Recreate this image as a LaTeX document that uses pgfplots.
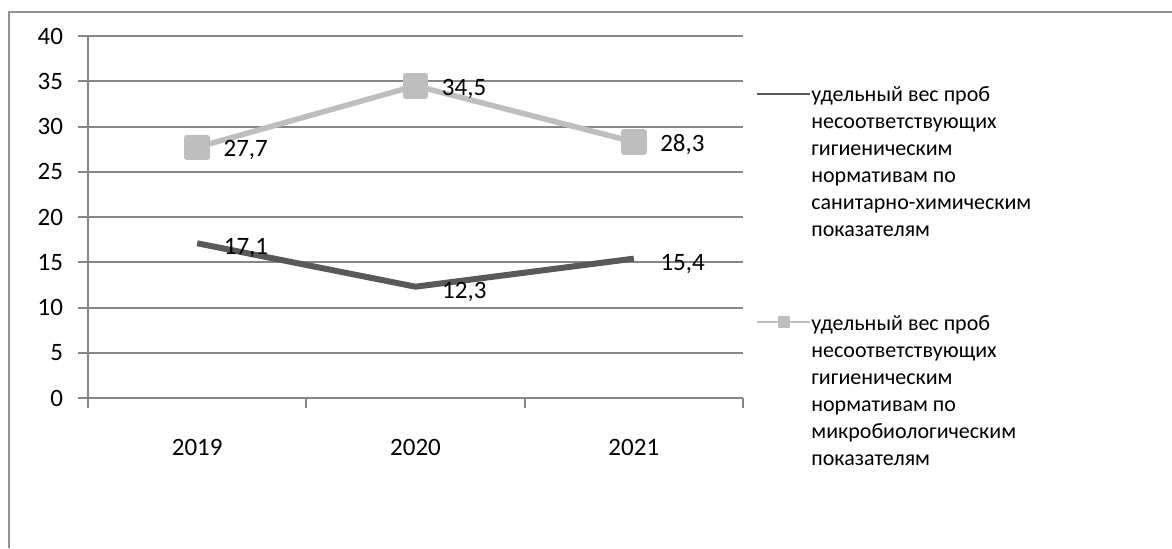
\documentclass[border=0pt]{standalone}
\usepackage{fontspec}
\setmainfont{Carlito}
\usepackage{pgfplots}
\pgfplotsset{compat=1.18}

\definecolor{gridgray}{RGB}{134,134,134}
\definecolor{framegray}{RGB}{145,145,145}
\definecolor{darkline}{RGB}{89,89,89}
\definecolor{lightline}{RGB}{190,190,190}

\newcommand\chartfont{\fontsize{11}{13.5}\selectfont}
\newcommand\numfont{\fontsize{12.5}{15}\selectfont}

\begin{document}
\begin{tikzpicture}
% page area and outer frame
\path[use as bounding box] (0pt,0pt) rectangle (586pt,-274pt);
\draw[framegray, line width=1pt] (4.5pt,-274pt) -- (4.5pt,-6pt) -- (586pt,-6pt);

\begin{axis}[
  at={(44pt,-199pt)}, anchor=south west,
  width=327.5pt, height=181pt, scale only axis,
  xmin=-0.5, xmax=2.5, ymin=0, ymax=40,
  clip=false,
  axis x line=bottom, axis y line=left,
  axis line style={draw=gridgray, line width=1pt, -},
  ytick={0,5,...,40},
  ymajorgrids,
  major grid style={draw=gridgray, line width=1pt},
  xtick={0,1,2}, xticklabels={2019,2020,2021},
  minor xtick={-0.5,0.5,1.5,2.5},
  tick align=outside,
  major tick length=5pt, minor tick length=5pt,
  major x tick style={draw=none},
  minor x tick style={draw=gridgray, line width=1pt},
  ytick style={draw=gridgray, line width=1pt},
  tick label style={font=\numfont, text=black},
  xticklabel style={yshift=-12pt},
  yticklabel style={xshift=-4pt},
  /pgf/number format/assume math mode=true,
  legend cell align=left,
  legend style={at={(axis description cs:1.0137,0.867)}, anchor=north west,
    xshift=2pt, yshift=1pt,
    draw=none, fill=none, inner sep=0pt, row sep=103.5pt,
    font=\chartfont, nodes={inner sep=0pt},
    /tikz/every even column/.append style={column sep=6pt}},
  legend image code/.code={%
    \draw[mark repeat=2, mark phase=2] plot coordinates {(0pt,0pt) (13.25pt,0pt) (26.5pt,0pt)};},
  nodes near coords={\pgfmathprintnumber[fixed,fixed zerofill,precision=1,use comma]{\pgfplotspointmeta}},
]

% sanitary-chemical indicators
\addplot[color=darkline, line width=3pt, line join=round, mark=none,
  nodes near coords style={anchor=west, xshift=8.5pt, yshift=-2.5pt, font=\numfont, text=black},
  legend image post style={line width=1pt}]
  coordinates {(0,17.1) (1,12.3) (2,15.4)};
\addlegendentry{\begin{tabular}[t]{@{}l@{}}удельный вес проб\\несоответствующих\\гигиеническим\\нормативам по\\санитарно-химическим\\показателям\end{tabular}}

% microbiological indicators
\addplot[color=lightline, line width=2.75pt, line join=round,
  mark=square*, mark size=5pt, mark options={solid, fill=lightline, draw=none},
  nodes near coords style={anchor=west, xshift=8.5pt, yshift=-1.5pt, font=\numfont, text=black},
  legend image post style={line width=1pt, mark size=2.5pt}]
  coordinates {(0,27.7) (1,34.5) (2,28.3)};
\addlegendentry{\begin{tabular}[t]{@{}l@{}}удельный вес проб\\несоответствующих\\гигиеническим\\нормативам по\\микробиологическим\\показателям\end{tabular}}

\end{axis}
\end{tikzpicture}
\end{document}
